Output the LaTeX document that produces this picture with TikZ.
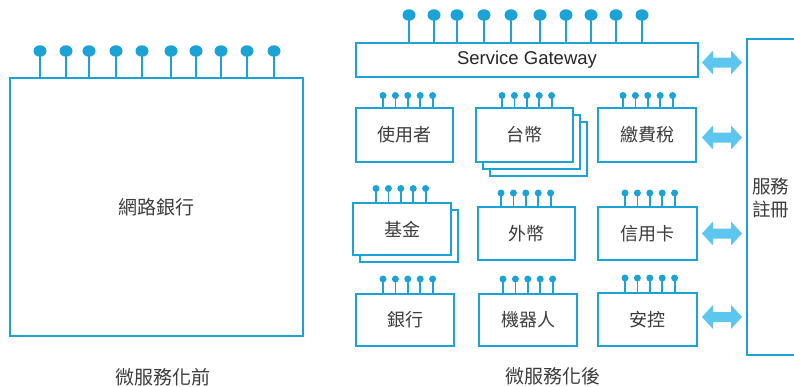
\documentclass[tikz,border=0pt]{standalone}
\usepackage{fontspec}
\setmainfont{Liberation Sans}
\newfontfamily\cjk{Noto Sans CJK TC}
\usetikzlibrary{calc,shapes.geometric}
\definecolor{lineblue}{RGB}{27,163,214}
\definecolor{arrowblue}{RGB}{92,198,238}
\definecolor{txt}{RGB}{60,60,60}
\newcommand\fatarrow[2]{%
  \fill[arrowblue] (#1) -- ($(#1)+(11,-12)$) -- ($(#1)+(11,-5)$) -- ($(#2)+(-11,-5)$) -- ($(#2)+(-11,-12)$) -- (#2)
   -- ($(#2)+(-11,12)$) -- ($(#2)+(-11,5)$) -- ($(#1)+(11,5)$) -- ($(#1)+(11,12)$) -- cycle;}
\begin{document}
\begin{tikzpicture}[x=1pt,y=-1pt,
  box/.style={draw=lineblue, line width=2.8pt, fill=white, inner sep=0pt, outer sep=0pt,
    text=txt, font=\cjk\fontsize{18}{20}\selectfont},
  bigpin/.style={draw=lineblue, line width=2.8pt},
  bighead/.style={ellipse, fill=lineblue, inner sep=0pt, minimum width=13pt, minimum height=11.5pt},
  smallpin/.style={draw=lineblue, line width=1.8pt},
  smallhead/.style={circle, fill=lineblue, inner sep=0pt, minimum size=7pt},
  caption/.style={text=txt, font=\cjk\fontsize{19}{21}\selectfont}
]
\useasboundingbox (0,0) rectangle (794,386);
\clip (0,0) rectangle (794,386);

% before
\node[box, minimum width=293pt, minimum height=258pt, font=\cjk\fontsize{19}{21}\selectfont] (big) at (156.5,207) {網路銀行};
\foreach \o in {30,56,79,106,132,161,186,211,237,264}
  \draw[bigpin] ([xshift=\o]big.north west) -- ++(0,-27) node[bighead]{};
\node[caption] (capA) at (163,377) {微服務化前};

% gateway
\node[box, minimum width=342pt, minimum height=34pt, text=black!85, font=\fontsize{18.5}{20}\selectfont] (sg) at (527,60) {Service Gateway};
\foreach \o in {53,78,101,128,155,184,210,235,260,286}
  \draw[bigpin] ([xshift=\o]sg.north west) -- ++(0,-28) node[bighead]{};

% registry
\node[box, minimum width=100pt, minimum height=316pt, anchor=north west] (reg) at (747,39) {};
\node[text=txt, font=\cjk\fontsize{18.5}{23}\selectfont, align=left, anchor=north west, inner sep=0pt] (regtext) at (752,178) {服務\\註冊};

% stacked shadows
\node[box, minimum width=97pt, minimum height=54pt] (tbC) at (538.5,149) {};
\node[box, minimum width=97pt, minimum height=54pt] (tbB) at (531.5,142) {};
\node[box, minimum width=98pt, minimum height=52pt] (jjB) at (409,236) {};

% row 1
\node[box, minimum width=97pt, minimum height=54pt] (user) at (404.5,135) {使用者};
\node[box, minimum width=97pt, minimum height=54pt] (twd) at (524.5,135) {台幣};
\node[box, minimum width=98pt, minimum height=54pt] (tax) at (647,135) {繳費稅};
% row 2
\node[box, minimum width=98pt, minimum height=52pt] (fund) at (402,229) {基金};
\node[box, minimum width=97pt, minimum height=53pt] (fx) at (526.5,233.5) {外幣};
\node[box, minimum width=99pt, minimum height=53pt] (card) at (647.5,233.5) {信用卡};
% row 3
\node[box, minimum width=98pt, minimum height=52pt] (bank) at (405,320) {銀行};
\node[box, minimum width=98pt, minimum height=52pt] (robot) at (528,320) {機器人};
\node[box, minimum width=99pt, minimum height=53pt] (sec) at (647.5,319.5) {安控};

% small pins: node / first offset / height
\foreach \n/\s/\h in {user/27/12.5, twd/26/12.5, tax/25/12.5, fund/23/14.5, fx/23/14, card/27/14, bank/27/15, robot/24/15, sec/27/15}
  \foreach \i in {0,...,4}
    \draw[smallpin] ([xshift={\s+12.4*\i}]\n.north west) -- ++(0,-\h) node[smallhead]{};

\node[caption] (capB) at (552.5,376) {微服務化後};

% double arrows to registry
\fatarrow{$(sg.east)+(4,2.5)$}{$(sg.east -| reg.west)+(-5,2.5)$}
\fatarrow{$(tax.east)+(6,2.5)$}{$(tax.east -| reg.west)+(-5,2.5)$}
\fatarrow{$(card.east)+(5,0)$}{$(card.east -| reg.west)+(-5,0)$}
\fatarrow{$(sec.east)+(5,-2.5)$}{$(sec.east -| reg.west)+(-5,-2.5)$}
\end{tikzpicture}
\end{document}
